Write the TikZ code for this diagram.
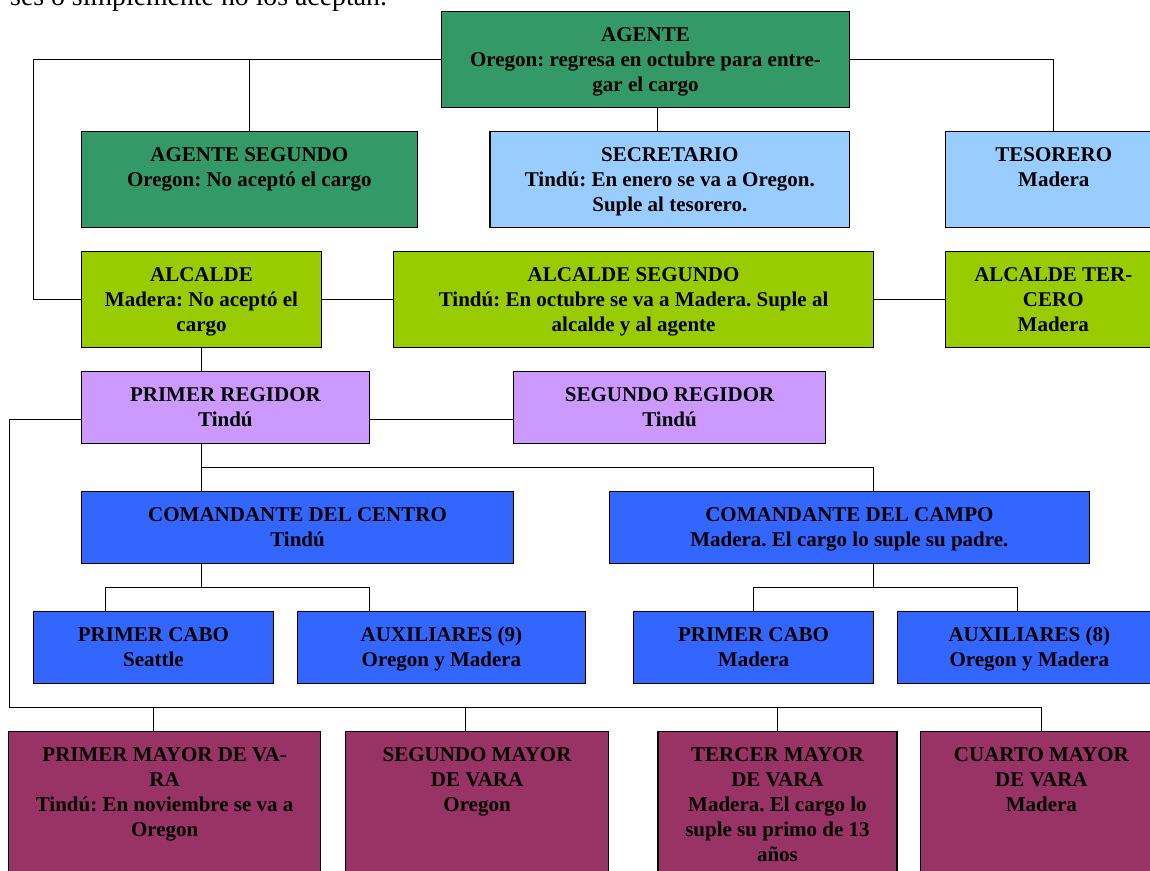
\documentclass[tikz,border=0pt]{standalone}
\usepackage{fontspec}
\setmainfont{Liberation Serif}
\frenchspacing
\definecolor{cgreen}{HTML}{339966}
\definecolor{cblue}{HTML}{99CCFF}
\definecolor{clime}{HTML}{99CC00}
\definecolor{clav}{HTML}{CC99FF}
\definecolor{croyal}{HTML}{3366FF}
\definecolor{cplum}{HTML}{993366}
\tikzset{
  orgbox/.style={draw=black, line width=1.2pt, inner sep=0pt, outer sep=0pt, anchor=north west},
  link/.style={draw=black, line width=0.9pt}
}
\newcommand\OrgBox[7]{%
  \node[orgbox, fill=#6] (#1) at (#2,#3)
    {\parbox[c][#5pt][t]{#4pt}{\centering\bfseries\frenchspacing\fontsize{21}{25}\selectfont\rule{0pt}{30pt}#7\par}};}
\begin{document}
\begin{tikzpicture}[x=1pt,y=-1pt]
\useasboundingbox (0,0) rectangle (1150,870);
% intro text (cut at top)
\node[anchor=base west, inner sep=0pt, font=\fontsize{27.8}{30}\selectfont] (intro) at (10,5.5) {ses o simplemente no los aceptan.};
% boxes
\OrgBox{agente}{441.3}{11.7}{408.4}{95.6}{cgreen}{AGENTE\\Oregon: regresa en octubre para entre-\\gar el cargo}
\OrgBox{agseg}{81.5}{131.7}{335.6}{96}{cgreen}{AGENTE SEGUNDO\\Oregon: No aceptó el cargo}
\OrgBox{secr}{489.9}{131.7}{359.8}{96}{cblue}{SECRETARIO\\Tindú: En enero se va a Oregon.\\Suple al tesorero.}
\OrgBox{teso}{945.8}{131.7}{216}{96}{cblue}{TESORERO\\Madera}
\OrgBox{alc}{81.5}{251.7}{240}{95.6}{clime}{ALCALDE\\Madera: No aceptó el\\cargo}
\OrgBox{alcseg}{393.4}{251.7}{480.4}{95.6}{clime}{ALCALDE SEGUNDO\\Tindú: En octubre se va a Madera. Suple al\\alcalde y al agente}
\OrgBox{alcter}{945.3}{251.7}{216}{95.6}{clime}{ALCALDE TER-\\CERO\\Madera}
\OrgBox{preg}{81.5}{371.7}{287.8}{71.6}{clav}{PRIMER REGIDOR\\Tindú}
\OrgBox{sreg}{513.6}{371.7}{311.9}{71.6}{clav}{SEGUNDO REGIDOR\\Tindú}
\OrgBox{ccentro}{81.5}{491.7}{432.1}{71.6}{croyal}{COMANDANTE DEL CENTRO\\Tindú}
\OrgBox{ccampo}{609.1}{491.7}{480.5}{71.6}{croyal}{COMANDANTE DEL CAMPO\\Madera. El cargo lo suple su padre.}
\OrgBox{cabo1}{33.3}{611.7}{240.3}{71.6}{croyal}{PRIMER CABO\\Seattle}
\OrgBox{aux9}{297.4}{611.7}{288.1}{71.6}{croyal}{AUXILIARES (9)\\Oregon y Madera}
\OrgBox{cabo2}{633.4}{611.7}{240.3}{71.6}{croyal}{PRIMER CABO\\Madera}
\OrgBox{aux8}{897.3}{611.7}{264}{71.6}{croyal}{AUXILIARES (8)\\Oregon y Madera}
\OrgBox{mv1}{8.8}{731.7}{311.7}{150}{cplum}{PRIMER MAYOR DE VA-\\RA\\Tindú: En noviembre se va a\\Oregon}
\OrgBox{mv2}{345.4}{731.7}{263.3}{150}{cplum}{SEGUNDO MAYOR\\DE VARA\\Oregon}
\OrgBox{mv3}{657.9}{731.7}{239.1}{150}{cplum}{TERCER MAYOR\\DE VARA\\Madera. El cargo lo\\suple su primo de 13\\años}
\OrgBox{mv4}{920.4}{731.7}{242}{150}{cplum}{CUARTO MAYOR\\DE VARA\\Madera}
% helper coordinates
\coordinate (xl) at (33.3,0);
\coordinate (xs) at (657.2,0);
\coordinate (yr) at (0,419.3);
\coordinate (xb) at (9.2,707.5);
\coordinate (x1) at (153.3,0);
\coordinate (x2) at (465.7,0);
\coordinate (yc) at (0,467.7);
\coordinate (xc) at (873.7,0);
\coordinate (ya) at (0,587.5);
\coordinate (xa1) at (105.2,0);
\coordinate (xa2) at (369.3,0);
\coordinate (xa4) at (1017.3,0);
% connectors
\draw[link] (agente.west) -- (agente.west -| xl) |- (alc.west);
\draw[link] (agseg.north) |- (agente.west);
\draw[link] (agente.south -| xs) -- (secr.north -| xs);
\draw[link] (agente.east) -| (teso.north);
\draw[link] (alc.east) -- (alcseg.west);
\draw[link] (alcseg.east) -- (alcter.west);
\draw[link] (alc.south) -- (preg.north -| alc.south);
\draw[link] (preg.east |- yr) -- (sreg.west |- yr);
\draw[link] (preg.west |- yr) -| (xb) -- (xb -| mv4.north) -- (mv4.north);
\draw[link] (mv1.north -| x1) -- (xb -| x1);
\draw[link] (mv2.north -| x2) -- (xb -| x2);
\draw[link] (mv3.north) -- (xb -| mv3.north);
\draw[link] (preg.south -| alc.south) -- (ccentro.north -| alc.south);
\draw[link] (ccentro.north -| alc.south) |- (yc -| xc) -- (ccampo.north -| xc);
\draw[link] (ccentro.south -| alc.south) -- (ya -| alc.south);
\draw[link] (cabo1.north -| xa1) -- (ya -| xa1) -- (ya -| xa2) -- (aux9.north -| xa2);
\draw[link] (ccampo.south -| xc) -- (ya -| xc);
\draw[link] (cabo2.north) -- (ya -| cabo2.north) -- (ya -| xa4) -- (aux8.north -| xa4);
\end{tikzpicture}
\end{document}
